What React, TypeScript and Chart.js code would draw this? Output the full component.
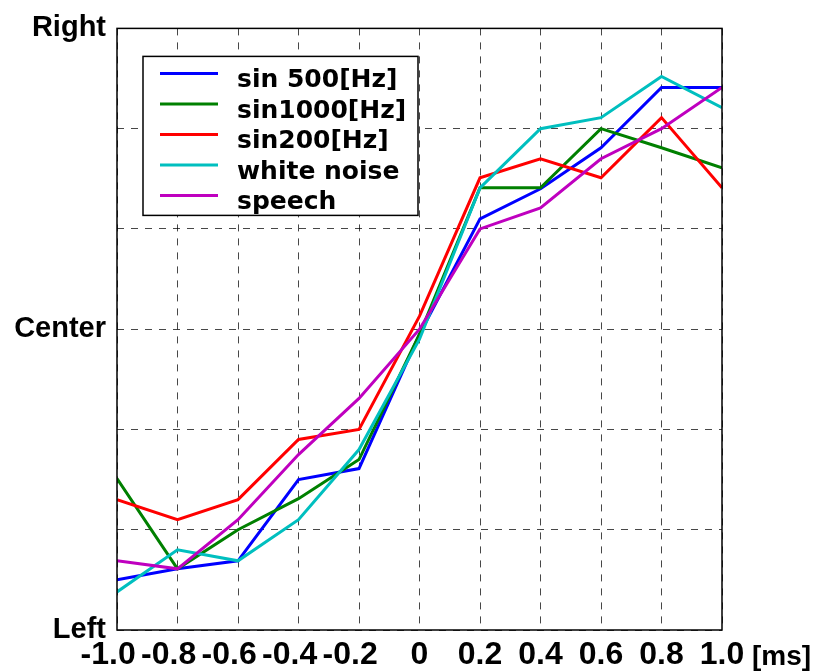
import { useEffect, useRef } from "react";
import { Chart, registerables } from "chart.js";

Chart.register(...registerables);

// Interaural delay [ms] on the horizontal axis
const delays = [-1.0, -0.8, -0.6, -0.4, -0.2, 0, 0.2, 0.4, 0.6, 0.8, 1.0];

// Perceived lateral position (-3 = Left, 0 = Center, 3 = Right)
const sin500 = [-2.5, -2.39, -2.31, -1.5, -1.39, -0.05, 1.1, 1.4, 1.81, 2.41, 2.41];
const sin1000 = [-1.49, -2.39, -2.0, -1.69, -1.3, -0.05, 1.41, 1.41, 2.0, 1.81, 1.61];
const sin200 = [-1.7, -1.9, -1.7, -1.1, -1.0, 0.13, 1.51, 1.7, 1.51, 2.11, 1.41];
const whiteNoise = [-2.62, -2.2, -2.31, -1.9, -1.2, -0.1, 1.41, 2.0, 2.11, 2.52, 2.21];
const speech = [-2.31, -2.39, -1.9, -1.25, -0.69, 0.0, 1.0, 1.21, 1.7, 2.0, 2.41];

const seriesNames = ["sin 500[Hz]", "sin1000[Hz]", "sin200[Hz]", "white noise", "speech"];
const seriesColors = ["#0000ff", "#008000", "#ff0000", "#00bfbf", "#bf00bf"];
const seriesValues = [sin500, sin1000, sin200, whiteNoise, speech];

// Vertical axis: gridline steps and the three named positions
const positionSteps = [-3, -2, -1, 0, 1, 2, 3];
const positionTicks = [-3, 0, 3];
const positionNames = ["Left", "Center", "Right"];

const unitLabel = "[ms]";

const AXIS_FONT = '"Liberation Sans", Arial, sans-serif';
const KEY_FONT = '"DejaVu Sans", sans-serif';

const frameAndKey = {
  id: "frameAndKey",
  afterDatasetsDraw(chart: any) {
    const { ctx, chartArea: a } = chart;
    ctx.save();

    // plot frame
    ctx.strokeStyle = "#000";
    ctx.lineWidth = 1.5;
    ctx.setLineDash([]);
    ctx.strokeRect(a.left, a.top, a.right - a.left, a.bottom - a.top);

    // boxed key
    const bx = a.left + 26;
    const by = a.top + 28;
    const bw = 275;
    const bh = 159;
    ctx.fillStyle = "#fff";
    ctx.fillRect(bx, by, bw, bh);
    ctx.strokeRect(bx, by, bw, bh);

    ctx.font = `bold 25px ${KEY_FONT}`;
    ctx.textAlign = "left";
    ctx.textBaseline = "alphabetic";
    chart.data.datasets.forEach((ds: any, i: number) => {
      const y = by + 17 + i * 30.5;
      ctx.strokeStyle = ds.borderColor;
      ctx.lineWidth = 3;
      ctx.beginPath();
      ctx.moveTo(bx + 17, y);
      ctx.lineTo(bx + 75, y);
      ctx.stroke();
      ctx.fillStyle = "#000";
      ctx.fillText(ds.label, bx + 94, y + 14);
    });
    ctx.restore();
  },
  afterDraw(chart: any) {
    const { ctx } = chart;
    const xs = chart.scales.x;
    ctx.save();
    ctx.font = `bold 28px ${AXIS_FONT}`;
    ctx.fillStyle = "#000";
    ctx.textAlign = "left";
    ctx.textBaseline = "alphabetic";
    ctx.fillText(unitLabel, xs.getPixelForValue(delays[delays.length - 1]) + 30, 665);
    ctx.restore();
  },
};

export default function App() {
  const canvasRef = useRef<HTMLCanvasElement | null>(null);

  useEffect(() => {
    const canvas = canvasRef.current;
    if (!canvas) return;

    const chart = new Chart(canvas, {
      type: "line",
      data: {
        datasets: seriesValues.map((vals, i) => ({
          label: seriesNames[i],
          data: delays.map((d, j) => ({ x: d, y: vals[j] })),
          borderColor: seriesColors[i],
          backgroundColor: seriesColors[i],
          borderWidth: 3,
          pointRadius: 0,
          tension: 0,
          fill: false,
          order: seriesValues.length - i,
        })),
      },
      options: {
        animation: false,
        responsive: false,
        devicePixelRatio: 1,
        layout: { padding: { left: 0, right: 96, top: 25, bottom: 0 } },
        plugins: {
          legend: { display: false },
          tooltip: { enabled: false },
        },
        scales: {
          x: {
            type: "linear",
            min: -1,
            max: 1,
            afterBuildTicks: (axis: any) => {
              axis.ticks = delays.map((v) => ({ value: v }));
            },
            afterFit: (axis: any) => {
              axis.height = 42;
            },
            ticks: {
              autoSkip: false,
              maxRotation: 0,
              minRotation: 0,
              padding: 6,
              color: "#000",
              font: { family: AXIS_FONT, size: 32, weight: "bold" },
              callback: (v: any) => {
                const n = Number(v);
                if (Math.abs(n) < 1e-9) return "0";
                return n < 0 ? n.toFixed(1) + "  " : n.toFixed(1);
              },
            },
            grid: {
              color: "rgba(0,0,0,0.72)",
              lineWidth: 1,
              drawTicks: false,
            },
            border: { display: false, dash: [7, 7] },
          },
          y: {
            type: "linear",
            min: -3,
            max: 3,
            afterBuildTicks: (axis: any) => {
              axis.ticks = positionSteps.map((v) => ({ value: v }));
            },
            afterFit: (axis: any) => {
              axis.width = 117;
            },
            ticks: {
              autoSkip: false,
              padding: 11,
              color: "#000",
              font: { family: AXIS_FONT, size: 29, weight: "bold" },
              callback: (v: any) => {
                const k = positionTicks.indexOf(Math.round(Number(v)));
                return k >= 0 ? positionNames[k] : "";
              },
            },
            grid: {
              color: "rgba(0,0,0,0.72)",
              lineWidth: 1,
              drawTicks: false,
            },
            border: { display: false, dash: [7, 7] },
          },
        },
      },
      plugins: [frameAndKey],
    });

    return () => chart.destroy();
  }, []);

  return (
    <div style={{ position: "fixed", left: 0, top: 0, width: 818, height: 672, background: "#fff" }}>
      <canvas ref={canvasRef} width={818} height={672} style={{ display: "block" }} />
    </div>
  );
}
